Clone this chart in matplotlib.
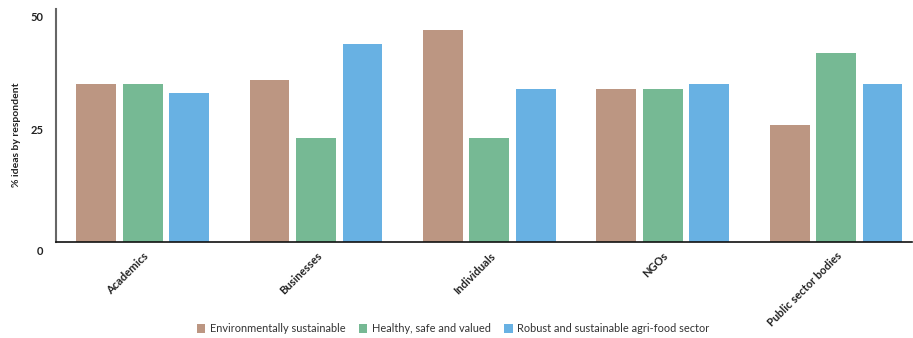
import numpy as np
import matplotlib
matplotlib.use("Agg")
import matplotlib.pyplot as plt
import matplotlib.transforms as mtransforms

plt.rcParams['font.family'] = ['Lato', 'DejaVu Sans']

categories = ['Academics', 'Businesses', 'Individuals', 'NGOs', 'Public sector bodies']
series_names = ['Environmentally sustainable', 'Healthy, safe and valued',
                'Robust and sustainable agri-food sector']
env = [35, 36, 47, 34, 26]
healthy = [35, 23, 23, 34, 42]
robust = [33, 44, 34, 35, 35]
colors = ['#BC9682', '#76B994', '#68B1E3']

fig = plt.figure(figsize=(9.13, 3.38), dpi=100)
ax = fig.add_axes([0.0613, 0.284, 0.938, 0.689])

x = np.arange(len(categories))
step = 0.268
width = 0.23
for i, (vals, name) in enumerate(zip([env, healthy, robust], series_names)):
    ax.bar(x + (i - 1) * step, vals, width, color=colors[i], label=name, zorder=2)

ax.set_xlim(-0.5, 4.44)
ax.set_ylim(0, 51.7)

ax.set_yticks([0, 25, 50])
ax.set_yticklabels(['0', '25', '50'])
ax.tick_params(axis='y', length=0, pad=9, labelsize=8, labelcolor='#222222')
for lbl in ax.get_yticklabels():
    lbl.set_fontweight('bold')
zero = ax.get_yticklabels()[0]
zero.set_va('top')
zero.set_transform(zero.get_transform() + mtransforms.ScaledTranslation(0, -3 / 72, fig.dpi_scale_trans))

ax.set_xticks(x)
ax.set_xticklabels(categories, rotation=45, ha='right', rotation_mode='anchor',
                   fontsize=8, fontweight='bold', color='#222222')
ax.tick_params(axis='x', length=0, pad=6)

ax.set_ylabel('% ideas by respondent', fontsize=7.5, fontweight='bold', color='#222222')
ax.yaxis.set_label_coords(-0.041, 0.46)

for s in ['top', 'right']:
    ax.spines[s].set_visible(False)
ax.spines['left'].set_color('#666666')
ax.spines['left'].set_linewidth(1.5)
ax.spines['bottom'].set_color('#111111')
ax.spines['bottom'].set_linewidth(1.2)

fig.legend(loc='center', bbox_to_anchor=(453 / 913, 1 - 329 / 338), ncol=3, frameon=False,
           fontsize=7.9, handlelength=0.8, handleheight=0.8, handletextpad=0.4, columnspacing=1.2,
           labelcolor='#333333')

fig.savefig('out.png', dpi=100)
